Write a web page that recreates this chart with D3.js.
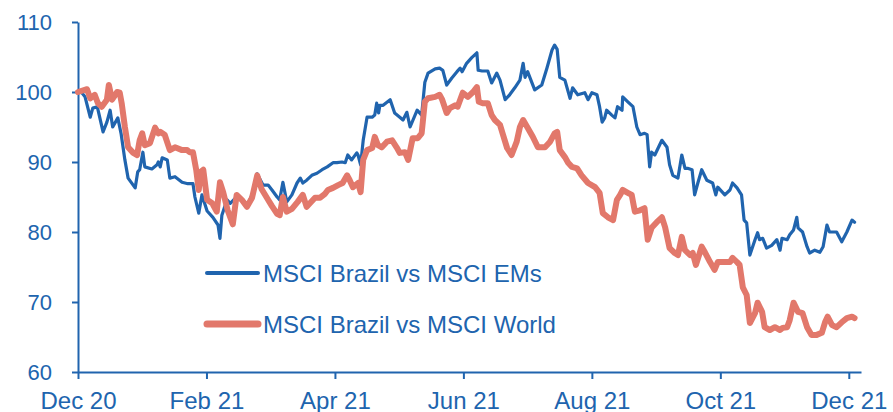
<!DOCTYPE html>
<html>
<head>
<meta charset="utf-8">
<script src="https://cdn.jsdelivr.net/npm/d3@7"></script>
<style>
	body { margin: 0; background: #fff; }
	text { font-family: "Liberation Sans", Arial, sans-serif; fill: #2064ae; }
</style>
</head>
<body>
<svg id="chart" width="893" height="412"></svg>
<script>
// x positions are months since Dec 20
const tickMonths = [0, 2, 4, 6, 8, 10, 12];
const tickLabels = ["Dec 20", "Feb 21", "Apr 21", "Jun 21", "Aug 21", "Oct 21", "Dec 21"];
const yTicks = [60, 70, 80, 90, 100, 110];
const seriesNames = ["MSCI Brazil vs MSCI EMs", "MSCI Brazil vs MSCI World"];

const emsT = [0, .06, .11, .19, .23, .30, .39, .45, .50, .54, .62, .67, .73, .78, .89, .93, .96, 1.01, 1.04, 1.15,
	1.23, 1.25, 1.28, 1.31, 1.39, 1.43, 1.51, 1.62, 1.71, 1.79, 1.82, 1.88, 1.93, 2.01, 2.10, 2.18, 2.21, 2.24, 2.32, 2.37,
	2.47, 2.57, 2.65, 2.72, 2.79, 2.88, 2.96, 3.02, 3.10, 3.14, 3.19, 3.25, 3.33, 3.41, 3.46, 3.50, 3.56, 3.64, 3.72, 3.80,
	3.88, 3.97, 4.03, 4.11, 4.16, 4.20, 4.26, 4.34, 4.36, 4.40, 4.44, 4.50, 4.58, 4.62, 4.65, 4.68, 4.70, 4.75, 4.86, 4.93,
	5.01, 5.06, 5.12, 5.17, 5.28, 5.35, 5.40, 5.45, 5.56, 5.63, 5.68, 5.74, 5.82, 5.90, 5.95, 5.98, 6.05, 6.13, 6.21, 6.23,
	6.29, 6.38, 6.44, 6.52, 6.57, 6.65, 6.72, 6.80, 6.88, 6.93, 6.96, 7.00, 7.11, 7.22, 7.30, 7.38, 7.42, 7.46, 7.50, 7.58,
	7.66, 7.70, 7.78, 7.89, 7.94, 8.00, 8.08, 8.12, 8.16, 8.20, 8.23, 8.31, 8.36, 8.40, 8.47, 8.48, 8.56, 8.64, 8.70, 8.75,
	8.82, 8.86, 8.90, 8.93, 8.98, 9.09, 9.17, 9.21, 9.26, 9.34, 9.40, 9.45, 9.49, 9.56, 9.60, 9.65, 9.71, 9.79, 9.88, 9.93,
	9.96, 10.07, 10.15, 10.19, 10.26, 10.33, 10.37, 10.41, 10.46, 10.54, 10.58, 10.61, 10.66, 10.72, 10.80, 10.88, 10.93, 10.96, 11.04, 11.08,
	11.14, 11.19, 11.21, 11.28, 11.35, 11.39, 11.47, 11.55, 11.60, 11.66, 11.70, 11.81, 11.89, 11.97, 12.05, 12.09];
const emsV = [100.0, 99.9, 99.3, 96.4, 97.7, 97.9, 94.3, 95.7, 97.4, 95.0, 96.3, 94.1, 90.3, 87.7, 86.3, 88.6, 88.9, 91.4, 89.3, 89.0,
	89.6, 90.0, 89.3, 90.6, 90.3, 87.7, 87.9, 87.1, 86.9, 86.9, 85.0, 82.7, 85.3, 83.0, 82.1, 81.0, 79.1, 82.4, 84.6, 84.1,
	85.0, 84.4, 84.0, 85.6, 88.3, 86.7, 86.7, 86.0, 85.0, 84.6, 87.1, 84.3, 85.3, 87.0, 87.7, 87.0, 87.4, 88.1, 88.4, 88.9,
	89.3, 89.9, 89.9, 90.0, 89.9, 91.0, 90.3, 91.3, 91.0, 89.6, 93.1, 96.4, 96.4, 96.7, 98.4, 97.0, 98.1, 98.1, 98.9, 97.0,
	96.4, 96.0, 97.1, 95.0, 97.4, 96.7, 101.4, 102.7, 103.3, 103.4, 103.1, 101.0, 102.0, 102.9, 103.4, 102.9, 104.1, 104.9, 105.6, 103.1,
	103.0, 103.0, 101.3, 102.7, 101.7, 98.9, 99.6, 100.6, 101.7, 104.1, 102.1, 102.9, 100.3, 101.0, 103.4, 106.0, 106.7, 106.1, 102.1, 101.7,
	99.1, 100.6, 99.6, 99.9, 98.9, 99.9, 99.6, 97.9, 95.7, 96.3, 97.4, 96.7, 96.3, 97.9, 97.4, 99.3, 98.6, 97.9, 95.0, 93.9,
	94.1, 93.9, 89.3, 91.4, 91.0, 93.1, 92.1, 89.6, 88.1, 87.7, 91.0, 89.1, 89.1, 88.9, 85.3, 87.0, 88.9, 87.4, 87.0, 85.3,
	86.4, 85.3, 86.0, 87.0, 86.3, 85.3, 81.7, 81.3, 76.7, 78.9, 79.9, 78.9, 79.1, 77.7, 78.1, 78.9, 77.4, 79.1, 78.9, 79.6,
	80.3, 82.1, 80.6, 80.0, 77.9, 77.0, 77.4, 77.1, 77.9, 81.0, 80.0, 80.0, 78.6, 80.0, 81.7, 81.4];

const worldT = [0, .14, .19, .26, .31, .37, .45, .48, .53, .61, .65, .68, .73, .78, .86, .92, .96, 1.00, 1.04, 1.12,
	1.20, 1.25, 1.28, 1.35, 1.43, 1.51, 1.62, 1.70, 1.74, 1.79, 1.84, 1.88, 1.91, 1.95, 2.01, 2.09, 2.16, 2.21, 2.26, 2.33,
	2.41, 2.47, 2.55, 2.63, 2.71, 2.79, 2.86, 2.94, 3.02, 3.10, 3.14, 3.19, 3.25, 3.33, 3.42, 3.50, 3.56, 3.61, 3.69, 3.77,
	3.84, 3.89, 3.97, 4.05, 4.12, 4.19, 4.23, 4.28, 4.36, 4.40, 4.44, 4.50, 4.58, 4.62, 4.67, 4.73, 4.81, 4.89, 4.96, 5.01,
	5.09, 5.14, 5.21, 5.29, 5.35, 5.40, 5.45, 5.56, 5.63, 5.67, 5.74, 5.79, 5.87, 5.91, 5.99, 6.07, 6.15, 6.21, 6.24, 6.30,
	6.38, 6.44, 6.49, 6.57, 6.61, 6.68, 6.75, 6.83, 6.88, 6.93, 7.00, 7.08, 7.16, 7.27, 7.35, 7.42, 7.46, 7.50, 7.58, 7.63,
	7.69, 7.77, 7.84, 7.94, 8.05, 8.12, 8.17, 8.25, 8.33, 8.39, 8.44, 8.48, 8.56, 8.62, 8.67, 8.75, 8.82, 8.87, 8.93, 9.01,
	9.09, 9.14, 9.21, 9.29, 9.34, 9.40, 9.45, 9.53, 9.57, 9.62, 9.71, 9.76, 9.84, 9.91, 9.96, 10.07, 10.15, 10.19, 10.26, 10.30,
	10.35, 10.41, 10.46, 10.54, 10.58, 10.65, 10.69, 10.77, 10.85, 10.93, 10.97, 11.04, 11.08, 11.14, 11.21, 11.28, 11.35, 11.42, 11.50, 11.58,
	11.63, 11.67, 11.74, 11.81, 11.89, 11.97, 12.05, 12.09];
const worldV = [100.0, 100.4, 99.1, 99.6, 98.4, 97.9, 98.9, 101.0, 98.9, 100.0, 99.9, 98.4, 95.0, 92.1, 91.3, 91.0, 93.1, 94.1, 92.4, 92.7,
	94.9, 94.1, 94.3, 93.9, 91.7, 92.1, 91.7, 91.7, 91.4, 91.4, 88.9, 86.0, 88.6, 88.9, 84.6, 84.1, 82.9, 87.1, 85.7, 83.1,
	81.1, 85.3, 84.6, 83.6, 84.9, 88.1, 86.1, 84.9, 83.7, 82.6, 82.4, 85.0, 82.9, 83.3, 84.3, 85.3, 83.6, 84.1, 84.9, 84.9,
	85.4, 86.0, 86.3, 86.7, 87.0, 88.1, 87.4, 86.4, 87.0, 85.7, 90.3, 91.7, 92.0, 93.6, 92.4, 92.1, 92.9, 93.1, 92.1, 91.3,
	91.4, 90.3, 93.4, 93.4, 94.1, 98.6, 99.1, 99.3, 99.6, 98.9, 97.0, 97.7, 98.1, 97.9, 99.9, 99.3, 100.0, 100.7, 98.6, 98.4,
	98.4, 96.7, 96.0, 95.3, 94.1, 92.0, 91.0, 92.9, 95.0, 96.0, 94.9, 93.6, 92.1, 92.1, 92.9, 94.1, 94.3, 91.7, 90.7, 89.9,
	89.3, 89.1, 88.1, 87.0, 86.4, 85.6, 82.7, 82.1, 81.7, 84.6, 85.3, 86.0, 85.6, 85.3, 82.9, 83.1, 83.4, 78.9, 80.6, 81.4,
	82.1, 80.7, 77.7, 77.0, 76.7, 79.3, 77.4, 76.7, 77.0, 75.3, 77.9, 77.1, 75.7, 74.6, 75.7, 75.7, 75.7, 76.3, 75.7, 75.3,
	72.1, 71.0, 67.0, 68.4, 69.9, 68.6, 66.4, 66.0, 66.4, 66.0, 66.3, 66.4, 67.4, 69.9, 68.6, 68.4, 66.4, 65.3, 65.3, 65.6,
	67.1, 67.9, 66.7, 66.4, 67.1, 67.7, 67.9, 67.7];

const blue = "#2064ae";
const salmon = "#e2786b";
const svg = d3.select("#chart");

const x = d3.scaleLinear().domain([0, 12.19]).range([78, 861]);
const y = d3.scaleLinear().domain([60, 110]).range([372, 22]);

// axes
const yAxis = svg.append("g")
	.attr("transform", "translate(78,0)")
	.call(d3.axisLeft(y).tickValues(yTicks).tickSize(6).tickSizeOuter(0).tickPadding(20));
const xAxis = svg.append("g")
	.attr("transform", "translate(0,372)")
	.call(d3.axisBottom(x).tickValues(tickMonths).tickSize(7).tickSizeOuter(0).tickPadding(13)
		.tickFormat((d, i) => tickLabels[i]));

svg.selectAll(".domain, .tick line")
	.attr("stroke", blue)
	.attr("stroke-width", 2);
svg.selectAll(".tick text")
	.attr("fill", blue)
	.style("font-family", "'Liberation Sans', Arial, sans-serif");
yAxis.selectAll(".tick text").style("font-size", "22px");
xAxis.selectAll(".tick text").style("font-size", "24px");

// lines
const line = d3.line()
	.x(p => x(p[0]))
	.y(p => y(p[1]));

const emsData = emsT.map((t, i) => [t, emsV[i]]);
const worldData = worldT.map((t, i) => [t, worldV[i]]);

svg.append("path")
	.datum(emsData)
	.attr("fill", "none")
	.attr("stroke", blue)
	.attr("stroke-width", 3.2)
	.attr("stroke-linejoin", "round")
	.attr("stroke-linecap", "round")
	.attr("d", line);

svg.append("path")
	.datum(worldData)
	.attr("fill", "none")
	.attr("stroke", salmon)
	.attr("stroke-width", 6)
	.attr("stroke-linejoin", "round")
	.attr("stroke-linecap", "round")
	.attr("d", line);

// legend
const legend = svg.append("g").attr("transform", "translate(207,273)");
const legendColors = [blue, salmon];
const legendWidths = [4, 7];
seriesNames.forEach((name, i) => {
	const row = legend.append("g").attr("transform", "translate(0," + i * 51 + ")");
	row.append("line")
		.attr("x1", 0).attr("x2", 51)
		.attr("stroke", legendColors[i])
		.attr("stroke-width", legendWidths[i])
		.attr("stroke-linecap", "round");
	row.append("text")
		.attr("x", 56)
		.attr("dy", "0.36em")
		.style("font-size", "24px")
		.text(name);
});
</script>
</body>
</html>
